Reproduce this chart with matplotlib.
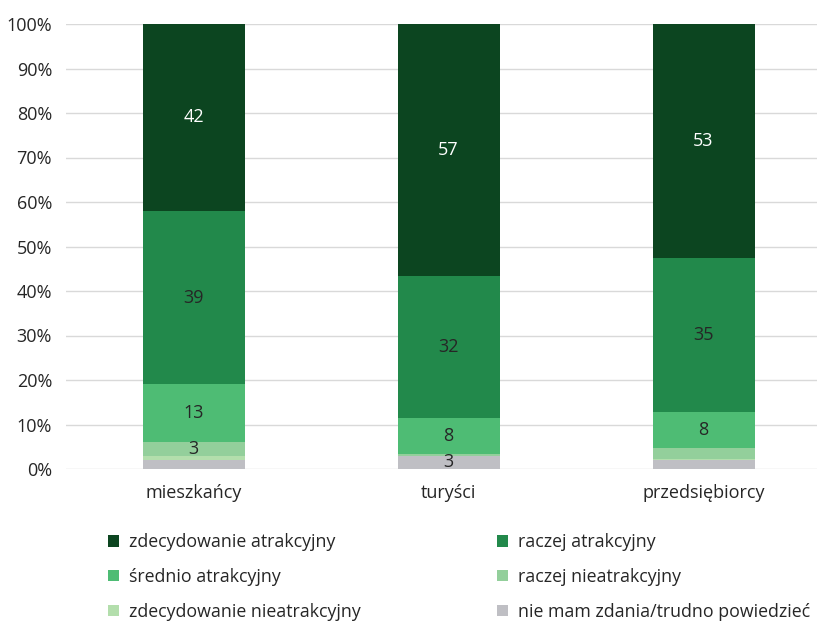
import numpy as np
import matplotlib.pyplot as plt

plt.rcParams['font.family'] = ['Open Sans', 'DejaVu Sans']

# === Dane ===
kategorie = ['mieszkańcy', 'turyści', 'przedsiębiorcy']
serie = ['zdecydowanie atrakcyjny', 'raczej atrakcyjny', 'średnio atrakcyjny',
         'raczej nieatrakcyjny', 'zdecydowanie nieatrakcyjny',
         'nie mam zdania/trudno powiedzieć']

zdecydowanie_atr = [42, 57, 53]
raczej_atr = [39, 32, 35]
srednio_atr = [13, 8, 8]
raczej_nieatr = [3, 0.5, 2.5]
zdecydowanie_nieatr = [1, 0, 0.3]
brak_zdania = [2, 3, 2]

kolory = ['#0c4520', '#22894b', '#4ebc74', '#93cf9b', '#b3deac', '#bfbfc4']

# kolejnosc rysowania od dolu
wartosci = [brak_zdania, zdecydowanie_nieatr, raczej_nieatr,
            srednio_atr, raczej_atr, zdecydowanie_atr]
nazwy = serie[::-1]
kol = kolory[::-1]

dane = np.array(wartosci, dtype=float)
sumy = dane.sum(axis=0)
proc = dane / sumy * 100

fig = plt.figure(figsize=(8.17, 6.21), dpi=100)
ax = fig.add_axes([66 / 817, 1 - 469 / 621, 1 - 66 / 817, 445 / 621])

x = np.arange(len(kategorie))
dol = np.zeros(len(kategorie))
uchwyty = {}
for i, (nazwa, c) in enumerate(zip(nazwy, kol)):
    b = ax.bar(x, proc[i], 0.4, bottom=dol, color=c, label=nazwa, zorder=2)
    uchwyty[nazwa] = b
    for j in range(len(kategorie)):
        v = dane[i][j]
        if v >= 3:
            kolor_txt = 'white' if nazwa == 'zdecydowanie atrakcyjny' else '#262626'
            ax.text(x[j], dol[j] + proc[i][j] / 2, f'{v:.0f}', ha='center', va='center',
                    fontsize=13, color=kolor_txt, zorder=3)
    dol += proc[i]

ax.set_xlim(-0.5, 2.5 - 14 / 255)
ax.set_ylim(0, 100)
ax.set_yticks(np.arange(0, 101, 10))
ax.set_yticklabels([f'{t}%' for t in range(0, 101, 10)])
ax.set_xticks(x)
ax.set_xticklabels(kategorie)
ax.tick_params(axis='both', length=0, labelsize=13, colors='#262626')
ax.tick_params(axis='x', pad=11)
ax.tick_params(axis='y', pad=10)
ax.grid(axis='y', color='#d9d9d9', linewidth=1, zorder=0)
for s in ax.spines.values():
    s.set_visible(False)

porzadek = [serie[0], serie[2], serie[4], serie[1], serie[3], serie[5]]
fig.legend([uchwyty[n] for n in porzadek], porzadek, ncol=2, loc='upper left',
           bbox_to_anchor=(92 / 817, 1 - 517 / 621), frameon=False,
           fontsize=12.8, handlelength=0.62, handleheight=0.62, handletextpad=0.55,
           columnspacing=7.7, labelspacing=0.95, labelcolor='#262626')

fig.savefig('out.png', dpi=100)
